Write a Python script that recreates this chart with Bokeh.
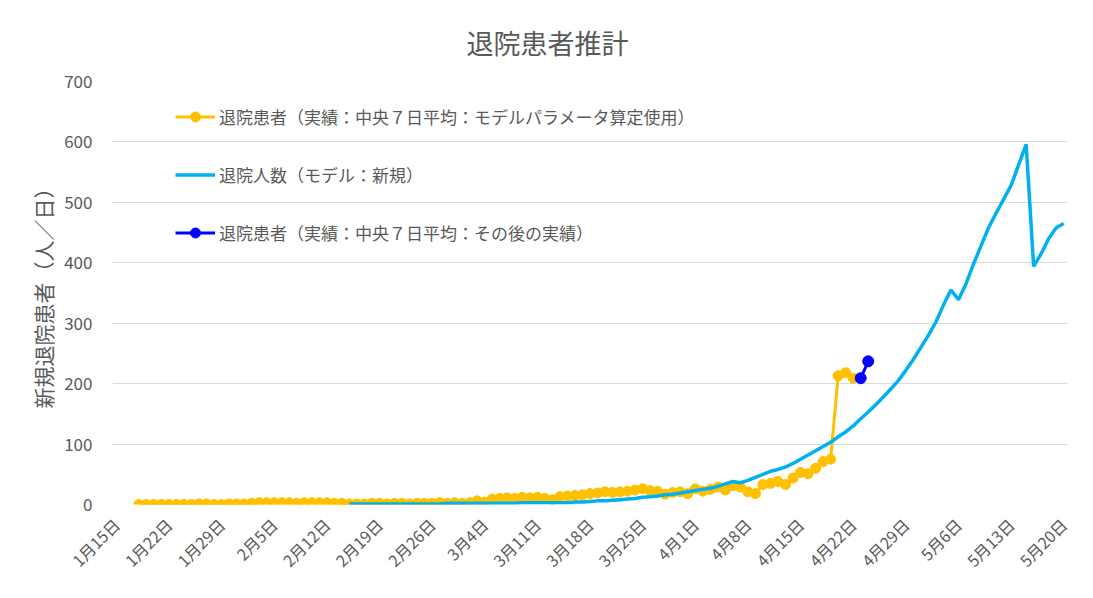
import math
import pandas as pd
from bokeh.plotting import figure
from bokeh.models import FixedTicker, Legend, LegendItem, Range1d
from bokeh.embed import file_html
from bokeh.resources import INLINE

# ---- data -------------------------------------------------------------
axis_start = "2020-01-15"
axis_end = "2020-05-20"
dates = pd.date_range(axis_start, axis_end, freq="D")
tick_dates = pd.date_range(axis_start, axis_end, freq="7D")
tick_labels = ["1月15日", "1月22日", "1月29日", "2月5日", "2月12日", "2月19日",
               "2月26日", "3月4日", "3月11日", "3月18日", "3月25日", "4月1日",
               "4月8日", "4月15日", "4月22日", "4月29日", "5月6日", "5月13日",
               "5月20日"]

# 退院患者（実績：中央７日平均：モデルパラメータ算定使用） from 1/18
actual_start = "2020-01-18"
actual = [0, 0, 0, 0, 0, 0, 0, 0, 1, 1, 0, 0, 1, 1, 1,
          2, 3, 3, 3, 3, 3, 2, 3, 3, 3, 3, 2, 2,
          1, 1, 1, 2, 2, 1, 2, 2, 1, 2, 2, 2, 3, 2, 3, 2, 3,
          6, 4, 9, 10, 11, 10, 12, 11, 12, 10, 8, 13, 14,
          15, 16, 18, 19, 21, 20, 21, 22, 24, 26, 23, 22, 17, 20, 21, 18,
          26, 22, 25, 29, 24, 31, 29, 21, 18, 33, 35, 38, 33, 44, 53, 51,
          60, 71, 75,
          213, 218, 209]

# 退院人数（モデル：新規） from 2/15
model_start = "2020-02-15"
model = [1, 1, 1, 1, 1, 1, 1, 1, 1, 1, 1, 1, 1, 2, 2,
         2, 2, 2, 2, 2, 2, 2, 2, 3, 3, 3, 3, 3, 3, 3,
         4, 4, 5, 6, 6, 7, 8,
         9, 10, 12, 13, 14,
         16, 17, 19, 21,
         23, 25, 27, 30, 34,
         38, 36, 40, 45, 50, 55, 58, 62, 68, 75, 82, 89, 96, 103, 112,
         120, 130, 142, 153, 165, 178, 191, 205, 222, 240, 260, 280, 302,
         330, 355, 339, 365, 398, 428, 458, 482, 505, 528, 562, 596,
         394, 415, 440, 458, 465]

# 退院患者（実績：中央７日平均：その後の実績） from 4/23
later_start = "2020-04-23"
later = [209, 237]

y_ticks = [0, 100, 200, 300, 400, 500, 600, 700]
title_text = "退院患者推計"


def day_index(start, n):
    s = dates.get_loc(pd.Timestamp(start))
    return list(range(s, s + n))


x_actual = day_index(actual_start, len(actual))
x_model = day_index(model_start, len(model))
x_later = day_index(later_start, len(later))
tick_pos = [dates.get_loc(d) for d in tick_dates]

# ---- figure -----------------------------------------------------------
FONT = "Noto Sans CJK JP"
GRAY = "#595959"

p = figure(width=1077, height=582, output_backend="svg", toolbar_location=None,
           x_range=Range1d(-0.5, len(dates) - 0.5), y_range=Range1d(0, 700),
           min_border_left=112, min_border_right=10, min_border_top=81,
           min_border_bottom=76)
p.outline_line_color = None
p.background_fill_color = "white"
p.border_fill_color = "white"

p.title.text = title_text
p.title.align = "left"
p.title.offset = 354
p.title.vertical_align = "middle"
p.title.standoff = 38
p.title.text_font = FONT
p.title.text_font_size = "27px"
p.title.text_font_style = "normal"
p.title.text_color = GRAY

# axes
p.yaxis.ticker = FixedTicker(ticks=y_ticks)
p.yaxis.axis_line_color = None
p.yaxis.major_tick_line_color = None
p.yaxis.minor_tick_line_color = None
p.yaxis.major_label_standoff = 14
p.yaxis.major_label_text_font = FONT
p.yaxis.major_label_text_font_size = "17px"
p.yaxis.major_label_text_color = GRAY
p.yaxis.axis_label = "新規退院患者（人／日）"
p.yaxis.axis_label_text_font = FONT
p.yaxis.axis_label_text_font_size = "21px"
p.yaxis.axis_label_text_font_style = "normal"
p.yaxis.axis_label_text_color = GRAY
p.yaxis.axis_label_standoff = 3

p.xaxis.ticker = FixedTicker(ticks=tick_pos)
p.xaxis.major_label_overrides = {t: l for t, l in zip(tick_pos, tick_labels)}
p.xaxis.major_label_orientation = math.pi / 4
p.xaxis.axis_line_color = None
p.xaxis.major_tick_line_color = None
p.xaxis.minor_tick_line_color = None
p.xaxis.major_label_standoff = 11
p.xaxis.major_label_text_font = FONT
p.xaxis.major_label_text_font_size = "16px"
p.xaxis.major_label_text_color = GRAY

p.xgrid.grid_line_color = None
p.ygrid.ticker = FixedTicker(ticks=y_ticks)
p.ygrid.grid_line_color = "#D9D9D9"
p.ygrid.grid_line_width = 1

# series
YEL = "#FFC000"
CYA = "#00B0F0"
BLU = "#0000FF"
r1l = p.line(x_actual, actual, line_color=YEL, line_width=3)
r1s = p.scatter(x_actual, actual, size=10, fill_color=YEL, line_color=YEL)
r2l = p.line(x_model, model, line_color=CYA, line_width=3.5)
r3l = p.line(x_later, later, line_color=BLU, line_width=3)
r3s = p.scatter(x_later, later, size=11, fill_color=BLU, line_color=BLU)

legend = Legend(items=[
    LegendItem(label="退院患者（実績：中央７日平均：モデルパラメータ算定使用）", renderers=[r1l, r1s]),
    LegendItem(label="退院人数（モデル：新規）", renderers=[r2l]),
    LegendItem(label="退院患者（実績：中央７日平均：その後の実績）", renderers=[r3l, r3s]),
], location=(53, 249))
legend.background_fill_alpha = 0
legend.border_line_alpha = 0
legend.glyph_width = 40
legend.glyph_height = 25
legend.label_height = 25
legend.spacing = 33
legend.padding = 10
legend.label_standoff = 4
legend.label_text_font = FONT
legend.label_text_font_size = "17px"
legend.label_text_color = GRAY
p.add_layout(legend, "center")

open("out.html", "w").write(file_html(p, INLINE))
